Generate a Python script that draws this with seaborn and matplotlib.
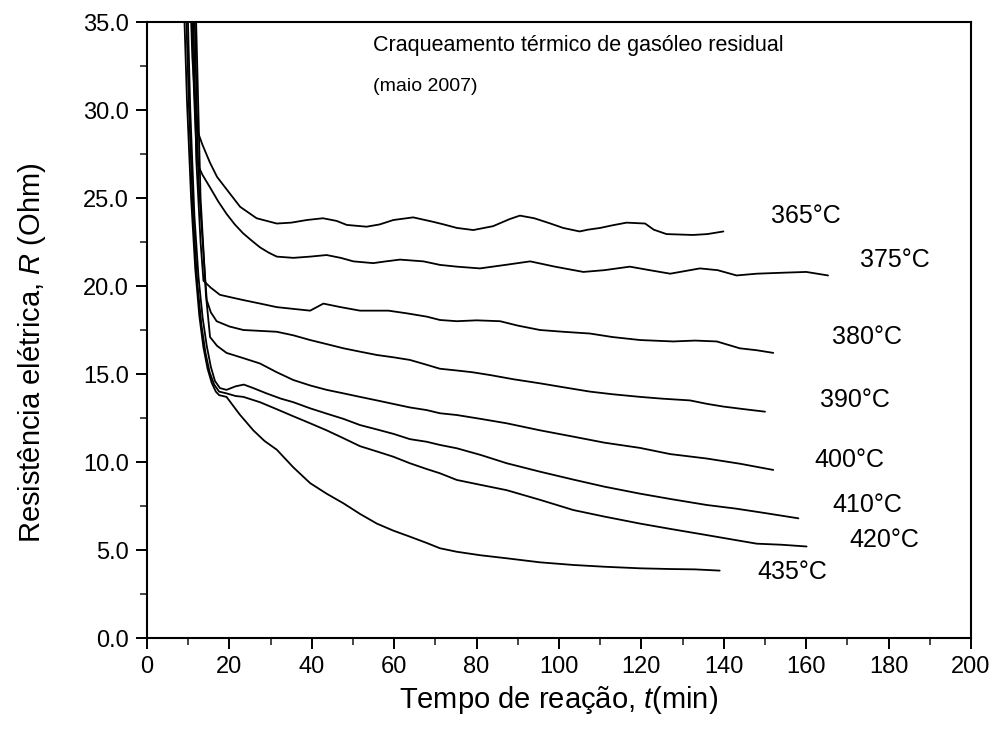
import matplotlib
matplotlib.use("Agg")
import matplotlib.pyplot as plt
import seaborn as sns
import pandas as pd
from matplotlib.ticker import MultipleLocator, FormatStrFormatter

# ---- data ----
t_365 = [10.3, 11.0, 12.1, 13.5, 15.3, 17.0, 19.3, 22.6, 26.6, 31.5, 35, 38.8, 42.7, 46, 48.5, 53.3, 56.5,
         59.8, 64.6, 69.4, 72, 75.2, 79.2, 84, 88, 90.5, 94, 97.8, 101, 105, 107, 110, 113, 116.4, 120.9,
         123, 126.1, 132.5, 136, 139.9]
r_365 = [38, 33, 28.9, 28.0, 27.0, 26.2, 25.5, 24.5, 23.85, 23.55, 23.6, 23.75, 23.85, 23.7, 23.47, 23.37, 23.5,
         23.75, 23.9, 23.65, 23.5, 23.3, 23.18, 23.4, 23.8, 24.0, 23.85, 23.56, 23.3, 23.1, 23.2, 23.3, 23.45,
         23.6, 23.55, 23.2, 22.95, 22.9, 22.95, 23.1]

t_375 = [10.6, 11.4, 12.1, 13.5, 15.3, 17.3, 19.3, 21.3, 23.3, 25.3, 27.4, 29.5, 31.5, 35.5, 39.6, 43.6, 47,
         50.1, 54.9, 58, 61.4, 67.1, 71.1, 75.2, 80.8, 87, 93, 99, 105.9, 111, 117.2, 122, 127, 134.2, 138.5,
         143.1, 148, 154.9, 160, 165.3]
r_375 = [38, 31, 27.0, 26.3, 25.6, 24.8, 24.1, 23.5, 23.0, 22.6, 22.2, 21.9, 21.67, 21.6, 21.67, 21.76, 21.6,
         21.4, 21.3, 21.4, 21.5, 21.4, 21.2, 21.1, 21.0, 21.2, 21.4, 21.1, 20.8, 20.9, 21.1, 20.9, 20.7, 21.0,
         20.9, 20.6, 20.7, 20.76, 20.8, 20.6]

t_380 = [11.0, 12.0, 13.0, 13.7, 15.5, 17.7, 20.5, 23.4, 27.5, 31.5, 35.5, 39.6, 42.8, 47, 51.7, 55, 58.6, 63,
         67.9, 71.1, 75.2, 80, 85.7, 90, 95.4, 101, 107.5, 113, 119.7, 127.7, 133, 138.3, 143.9, 148, 152]
r_380 = [38, 27, 22.5, 20.3, 19.9, 19.5, 19.35, 19.2, 19.0, 18.8, 18.7, 18.6, 19.0, 18.8, 18.6, 18.6, 18.6,
         18.45, 18.26, 18.07, 18.0, 18.05, 18.0, 17.75, 17.5, 17.4, 17.3, 17.1, 16.93, 16.85, 16.9, 16.85,
         16.46, 16.35, 16.2]

t_390 = [11.3, 12.5, 13.8, 14.5, 15.5, 16.9, 20, 23.4, 27.5, 31.5, 35.5, 39.6, 43.6, 47.7, 51.7, 55.8, 59.8,
         63.8, 67.5, 71.1, 75.2, 79, 83.3, 89, 95.4, 101, 107.5, 113, 119.7, 125, 131.8, 136, 139.9, 145, 150]
r_390 = [38, 26, 21.5, 19.2, 18.5, 18.0, 17.7, 17.5, 17.45, 17.4, 17.2, 16.93, 16.7, 16.46, 16.27, 16.08,
         15.95, 15.8, 15.55, 15.3, 15.2, 15.1, 14.94, 14.7, 14.47, 14.25, 14.0, 13.85, 13.7, 13.6, 13.5, 13.3,
         13.15, 13.0, 12.86]

t_400 = [11.6, 13.0, 14.3, 15.3, 17.0, 19.3, 23.4, 27.4, 31.5, 35.5, 39.6, 43.6, 47.7, 51.7, 55.8, 59.8, 63.8,
         67.9, 71.1, 75.2, 81, 87.3, 95.4, 103.5, 111, 119.7, 127, 135.8, 144, 152]
r_400 = [38, 25, 19.5, 17.1, 16.6, 16.2, 15.9, 15.6, 15.1, 14.66, 14.35, 14.1, 13.9, 13.7, 13.5, 13.3, 13.1,
         12.95, 12.77, 12.67, 12.45, 12.2, 11.8, 11.44, 11.1, 10.8, 10.45, 10.2, 9.9, 9.55]

t_410 = [9.6, 10.5, 11.5, 12.5, 13.5, 14.5, 15.5, 16.5, 17.7, 19.3, 21.5, 23.5, 25.8, 29, 32.5, 35.5, 39.6,
         43.6, 47.7, 51.7, 55.8, 59.8, 63.8, 67.9, 71.1, 75.2, 81, 87.3, 95.4, 103.5, 111, 119.7, 127, 135.8,
         143, 150, 158.1]
r_410 = [38, 30, 24, 20.5, 18.2, 16.6, 15.4, 14.6, 14.2, 14.1, 14.3, 14.4, 14.2, 13.9, 13.6, 13.4, 13.05,
         12.75, 12.45, 12.1, 11.85, 11.6, 11.3, 11.15, 10.97, 10.78, 10.4, 9.93, 9.45, 9.0, 8.6, 8.2, 7.9,
         7.56, 7.35, 7.1, 6.8]

t_420 = [9.2, 10.2, 11.2, 12.2, 13.2, 14.2, 15.2, 16.3, 17.5, 19.3, 21.5, 23.4, 27.4, 31.5, 35.5, 39.6, 43.6,
         47.7, 51.7, 55.8, 59.8, 63.8, 67.9, 71.1, 75.2, 81, 87.3, 95.4, 103.5, 111, 119.7, 127, 135.8, 142,
         148, 154, 160.1]
r_420 = [38, 30, 24, 20.2, 17.8, 16.2, 15.1, 14.4, 14.0, 13.9, 13.75, 13.7, 13.4, 13.0, 12.6, 12.2, 11.8,
         11.35, 10.9, 10.6, 10.3, 9.93, 9.6, 9.36, 8.98, 8.7, 8.4, 7.85, 7.27, 6.9, 6.5, 6.2, 5.85, 5.6, 5.36,
         5.3, 5.2]

t_435 = [8.7, 9.7, 10.7, 11.7, 12.7, 13.7, 14.7, 15.7, 16.7, 17.5, 19.3, 22.5, 25.8, 28.5, 31.5, 35.5, 39.6,
         43.6, 47.7, 51.7, 55.8, 59.8, 63.8, 67.9, 71.1, 75.2, 81, 87.3, 95.4, 103.5, 111, 119.7, 127, 133, 139]
r_435 = [38, 30.5, 25, 21, 18.3, 16.5, 15.3, 14.5, 14.0, 13.8, 13.7, 12.7, 11.8, 11.2, 10.7, 9.7, 8.8, 8.2,
         7.65, 7.05, 6.5, 6.1, 5.76, 5.4, 5.1, 4.9, 4.7, 4.53, 4.3, 4.15, 4.05, 3.96, 3.92, 3.9, 3.83]

series_labels = ["365°C", "375°C", "380°C", "390°C", "400°C", "410°C", "420°C", "435°C"]
label_t = [151.5, 173.0, 166.3, 163.3, 162.1, 166.3, 170.6, 148.1]
label_r = [24.0, 21.5, 17.1, 13.5, 10.1, 7.56, 5.57, 3.75]

title_text = "Craqueamento térmico de gasóleo residual"
subtitle_text = "(maio 2007)"
x_label_text = "Tempo de reação, "
y_label_text = "Resistência elétrica, "

# ---- build long table ----
all_t = [t_365, t_375, t_380, t_390, t_400, t_410, t_420, t_435]
all_r = [r_365, r_375, r_380, r_390, r_400, r_410, r_420, r_435]
frames = []
for lab, tt, rr in zip(series_labels, all_t, all_r):
    frames.append(pd.DataFrame({"t": tt, "R": rr, "serie": lab}))
df = pd.concat(frames, ignore_index=True)

sns.set_theme(style="white")
plt.rcParams["font.family"] = ["Liberation Sans", "DejaVu Sans"]
plt.rcParams["mathtext.fontset"] = "custom"
plt.rcParams["mathtext.it"] = "Liberation Sans:italic"
plt.rcParams["mathtext.rm"] = "Liberation Sans"

fig = plt.figure(figsize=(9.96, 7.31), dpi=100)
ax = fig.add_axes([0.1476, 0.1272, 0.9749 - 0.1476, 0.9699 - 0.1272])

sns.lineplot(data=df, x="t", y="R", hue="serie", palette=["black"] * len(series_labels),
             sort=False, estimator=None, linewidth=1.3, legend=False, ax=ax)

ax.set_xlim(0, 200)
ax.set_ylim(0, 35)
ax.xaxis.set_major_locator(MultipleLocator(20))
ax.xaxis.set_minor_locator(MultipleLocator(10))
ax.yaxis.set_major_locator(MultipleLocator(5))
ax.yaxis.set_minor_locator(MultipleLocator(2.5))
ax.yaxis.set_major_formatter(FormatStrFormatter("%.1f"))
ax.tick_params(axis="both", which="major", direction="out", length=8, width=1.4,
               labelsize=17, colors="black", bottom=True, left=True, top=False, right=False, pad=5)
ax.tick_params(axis="both", which="minor", direction="out", length=5, width=1.2,
               bottom=True, left=True, top=False, right=False)
for s in ax.spines.values():
    s.set_visible(True)
    s.set_color("black")
    s.set_linewidth(1.5)

ax.set_xlabel(x_label_text + r"$\mathit{t}$(min)", fontsize=21, color="black", labelpad=4)
ax.set_ylabel(y_label_text + r"$\mathit{R}$ (Ohm)", fontsize=21, color="black")
ax.yaxis.set_label_coords(-0.12, 0.464)

ax.text(0.274, 0.962, title_text, transform=ax.transAxes, fontsize=15.5, color="black", va="center", ha="left")
ax.text(0.274, 0.895, subtitle_text, transform=ax.transAxes, fontsize=14, color="black", va="center", ha="left")

for lab, xt, yr in zip(series_labels, label_t, label_r):
    ax.text(xt, yr, lab, fontsize=18, color="black", va="center", ha="left")

fig.savefig("out.png", dpi=100, facecolor="white")
